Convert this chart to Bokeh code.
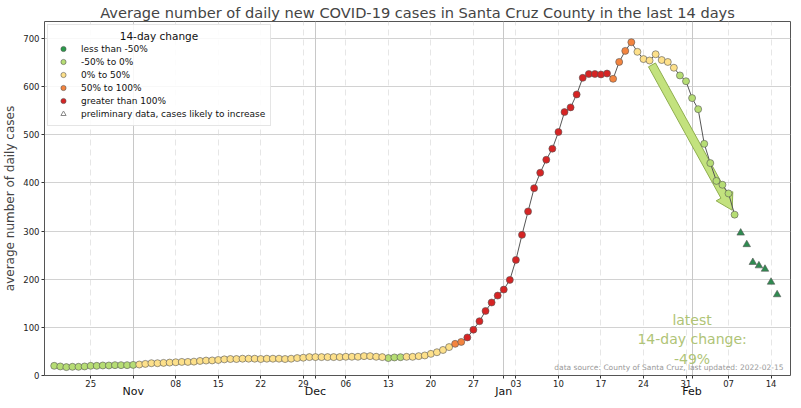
import math
from datetime import date

from bokeh.plotting import figure
from bokeh.models import (FixedTicker, Legend, LegendItem, Label, Grid, Range1d,
                          LinearAxis)
from bokeh.embed import file_html
from bokeh.resources import INLINE

FONT = "DejaVu Sans"

# ---------------- data ----------------
start_date = date(2021, 10, 19)

# 14-day average of daily new cases, Oct 19 2021 .. Feb 8 2022 (complete data)
cases = [
    # Oct 19 - Oct 31
    20.1, 18.8, 17.4, 18.1, 18.1, 18.8, 20.1, 20.1, 20.8, 20.8, 21.5, 21.5, 21.5,
    # Nov
    22.0, 22.8, 24.1, 25.5, 25.5, 26.2, 26.8, 27.5, 28.2, 28.2, 28.8, 30.2, 31.0, 31.3,
    32.2, 33.5, 34.2, 34.2, 34.9, 34.9, 34.9, 34.2, 34.9, 34.9, 34.9, 34.2, 34.9, 36.2,
    36.9, 38.2,
    # Dec
    38.2, 38.2, 38.2, 38.2, 38.2, 38.9, 38.9, 38.9, 40.2, 40.2, 38.9, 38.2, 36.2, 37.5,
    38.0, 38.8, 38.8, 40.2, 41.6, 44.9, 48.3, 53.0, 59.0, 65.7, 69.7, 79.0, 95.0, 112.7,
    134.0, 151.6, 166.0,
    # Jan
    178.4, 198.5, 240.0, 292.0, 340.7, 389.0, 421.0, 448.0, 471.0, 505.6, 547.0, 556.7,
    583.5, 618.0, 626.0, 626.0, 625.0, 627.0, 616.0, 651.0, 674.0, 692.0, 672.0, 657.0,
    654.0, 667.0, 655.0, 651.0, 639.0, 623.0, 611.0,
    # Feb 1 - Feb 8
    576.0, 553.0, 481.0, 441.0, 404.0, 396.0, 378.0, 334.0,
]

# preliminary data (Feb 9 - Feb 15), cases likely to increase
prelim_cases = [296.0, 272.0, 235.0, 228.0, 221.0, 194.0, 168.0]

# 14-day change category of the first 14 days (earlier data not shown)
early_categories = ["-50% to 0%"] * 14

category_labels = ["less than -50%", "-50% to 0%", "0% to 50%", "50% to 100%",
                   "greater than 100%"]
category_colors = ["#2a9a4a", "#b6dd74", "#fde08a", "#f3843f", "#d62424"]
prelim_label = "preliminary data, cases likely to increase"
legend_title = "14-day change"

week_tick_dates = ["2021-10-25", "2021-11-08", "2021-11-15", "2021-11-22", "2021-11-29",
                   "2021-12-06", "2021-12-13", "2021-12-20", "2021-12-27", "2022-01-03",
                   "2022-01-10", "2022-01-17", "2022-01-24", "2022-01-31", "2022-02-07",
                   "2022-02-14"]
week_tick_labels = ["25", "08", "15", "22", "29", "06", "13", "20", "27", "03", "10",
                    "17", "24", "31", "07", "14"]
month_tick_dates = ["2021-11-01", "2021-12-01", "2022-01-01", "2022-02-01"]
month_tick_labels = ["Nov", "Dec", "Jan", "Feb"]
y_ticks = [0, 100, 200, 300, 400, 500, 600, 700]

title_text = "Average number of daily new COVID-19 cases in Santa Cruz County in the last 14 days"
last_updated = "2022-02-15"
source_note = f"data source: County of Santa Cruz, last updated: {last_updated}"


# ---------------- helpers ----------------
def day_index(s):
    return (date.fromisoformat(s) - start_date).days


def category_of(change):
    if change < -0.5:
        return category_labels[0]
    if change < 0:
        return category_labels[1]
    if change < 0.5:
        return category_labels[2]
    if change < 1.0:
        return category_labels[3]
    return category_labels[4]


n = len(cases)
xs = list(range(n))
prelim_xs = list(range(n, n + len(prelim_cases)))

categories = list(early_categories)
for i in range(len(early_categories), n):
    categories.append(category_of(cases[i] / cases[i - 14] - 1))

week_x = [day_index(d) for d in week_tick_dates]
month_x = [day_index(d) for d in month_tick_dates]

# ---------------- figure ----------------
FW, FH = 746, 354
X0, X1 = -1.6, prelim_xs[-1] + 2.2
Y0, Y1 = 0, 735

p = figure(frame_width=FW, frame_height=FH,
           x_range=Range1d(X0, X1), y_range=Range1d(Y0, Y1),
           output_backend="svg", toolbar_location=None,
           min_border_left=0, min_border_right=3, min_border_top=0,
           min_border_bottom=0, background_fill_color="white",
           border_fill_color="white")

p.title.text = title_text
p.title.text_font = FONT
p.title.text_font_size = "14.6px"
p.title.text_font_style = "normal"
p.title.align = "center"
p.title.standoff = 2

p.outline_line_color = "#555555"
p.outline_line_width = 1

# x axis (week ticks labelled, month ticks unlabelled)
p.xaxis.ticker = FixedTicker(ticks=week_x + month_x)
overrides = {x: lbl for x, lbl in zip(week_x, week_tick_labels)}
overrides.update({x: "" for x in month_x})
p.xaxis.major_label_overrides = overrides
p.xaxis.major_label_text_font = FONT
p.xaxis.major_label_text_font_size = "8.5px"
p.xaxis.major_label_text_color = "#222222"
p.xaxis.axis_line_color = None
p.xaxis.major_tick_out = 3
p.xaxis.major_tick_in = 0
p.xaxis.major_label_standoff = 1
p.xaxis.major_tick_line_color = "#333333"

# second row: month names
month_axis = LinearAxis(ticker=FixedTicker(ticks=month_x),
                        major_label_overrides={x: m for x, m in zip(month_x, month_tick_labels)},
                        major_label_text_font=FONT, major_label_text_font_size="11px",
                        major_label_text_color="#111111",
                        axis_line_color=None, major_tick_line_color=None,
                        minor_tick_line_color=None, major_tick_out=0, major_tick_in=0,
                        major_label_standoff=-5)
p.add_layout(month_axis, "below")

# y axis
p.yaxis.ticker = FixedTicker(ticks=y_ticks)
p.yaxis.axis_label = "average number of daily cases"
p.yaxis.axis_label_text_font = FONT
p.yaxis.axis_label_text_font_size = "12px"
p.yaxis.axis_label_text_font_style = "normal"
p.yaxis.axis_label_standoff = 3
p.yaxis.major_label_text_font = FONT
p.yaxis.major_label_text_font_size = "8.5px"
p.yaxis.major_label_text_color = "#222222"
p.yaxis.axis_line_color = None
p.yaxis.major_tick_out = 3
p.yaxis.major_tick_in = 0
p.yaxis.major_label_standoff = 2
p.yaxis.major_tick_line_color = "#333333"

# grids
p.xgrid.ticker = FixedTicker(ticks=week_x)
p.xgrid.grid_line_color = "#e0e0e0"
p.xgrid.grid_line_dash = "6 4"
p.xgrid.grid_line_width = 0.8
month_grid = Grid(dimension=0, ticker=FixedTicker(ticks=month_x),
                  grid_line_color="#c8c8c8", grid_line_width=1)
p.add_layout(month_grid)
p.ygrid.ticker = FixedTicker(ticks=y_ticks)
p.ygrid.grid_line_color = "#d2d2d2"
p.ygrid.grid_line_width = 1

# ---------------- 14-day change arrow ----------------
i_end = n - 1
i_start = i_end - 14
ppx = FW / (X1 - X0)
ppy = FH / (Y1 - Y0)
sx, sy = xs[i_start] * ppx, cases[i_start] * ppy
ex, ey = xs[i_end] * ppx, cases[i_end] * ppy
L = math.hypot(ex - sx, ey - sy)
ux, uy = (ex - sx) / L, (ey - sy) / L
nx, ny = -uy, ux
sx, sy = sx + ux * 5, sy + uy * 5
ex, ey = ex - ux * 5, ey - uy * 5
w, hw, hl = 4.0, 9.5, 16.0
bx, by = ex - ux * hl, ey - uy * hl
pts = [(sx + nx * w, sy + ny * w), (bx + nx * w, by + ny * w),
       (bx + nx * hw, by + ny * hw), (ex, ey),
       (bx - nx * hw, by - ny * hw), (bx - nx * w, by - ny * w),
       (sx - nx * w, sy - ny * w)]
p.patch([a / ppx for a, _ in pts], [b / ppy for _, b in pts],
        fill_color="#c3e27e", line_color="#8fae4f", line_width=1)

# ---------------- data marks ----------------
p.line(xs, cases, line_color="#555555", line_width=1)

nan = float("nan")
renderers = {}
for lbl, col in zip(category_labels, category_colors):
    cx = [x for x, c in zip(xs, categories) if c == lbl] or [nan]
    cy = [y for y, c in zip(cases, categories) if c == lbl] or [nan]
    renderers[lbl] = p.scatter(cx, cy, marker="circle", size=7, fill_color=col,
                               line_color="#555555", line_width=0.6)

p.scatter(prelim_xs, prelim_cases, marker="triangle", size=7.5, fill_color="#2e8b50",
          line_color="#555555", line_width=0.6)
prelim_legend_r = p.scatter([nan], [nan], marker="triangle", size=7.5, fill_color="white",
                            line_color="#888888", line_width=1)

# ---------------- legend ----------------
items = [LegendItem(label=lbl, renderers=[renderers[lbl]]) for lbl in category_labels]
items.append(LegendItem(label=prelim_label, renderers=[prelim_legend_r]))
legend = Legend(items=items, location="top_left",
                title="\u00a0" * 20 + legend_title,
                title_text_font=FONT, title_text_font_size="10.5px",
                title_text_font_style="normal", title_text_color="#111111",
                title_standoff=0,
                label_text_font=FONT, label_text_font_size="9px",
                label_text_color="#111111",
                glyph_width=20, glyph_height=13, label_height=13, label_standoff=8,
                spacing=0, padding=5, margin=3,
                background_fill_color="white", background_fill_alpha=0.85,
                border_line_color="#cccccc", border_line_width=1)
p.add_layout(legend)

# ---------------- annotations ----------------
change_pct = round((cases[i_end] / cases[i_start] - 1) * 100)
p.add_layout(Label(x=month_x[-1], y=36, x_units="data", y_units="screen",
                   text=f"latest\n14-day change:\n{change_pct}%",
                   text_align="center", text_baseline="middle",
                   text_font=FONT, text_font_size="14px", text_color="#afc476"))
p.add_layout(Label(x=FW - 7, y=4, x_units="screen", y_units="screen", text=source_note,
                   text_align="right", text_baseline="bottom",
                   text_font=FONT, text_font_size="7.5px", text_color="#999999"))

open("out.html", "w").write(file_html(p, INLINE))
